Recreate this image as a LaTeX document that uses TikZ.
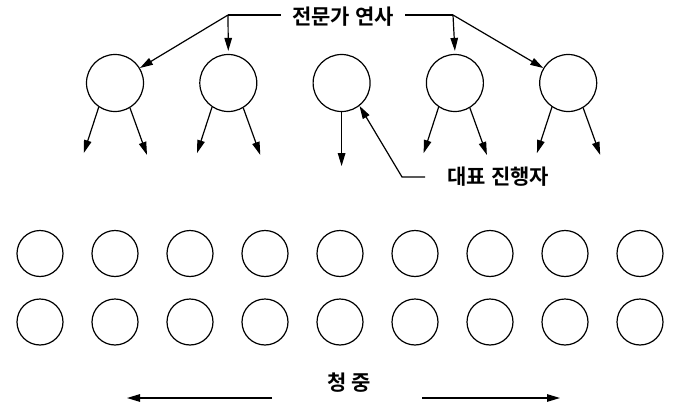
\documentclass[tikz,border=0pt]{standalone}
\usepackage{fontspec}
\newfontfamily\krfont{Noto Sans CJK KR}[BoldFont={Noto Sans CJK KR Bold}]
\usetikzlibrary{arrows.meta,calc}

\begin{document}
\begin{tikzpicture}[
  x=1pt, y=-1pt,
  line width=1.2pt,
  arr/.style={-{Triangle[length=13pt,width=7.5pt]}},
  top node/.style={draw,circle,minimum size=57pt,inner sep=0pt},
  crowd node/.style={draw,circle,minimum size=46pt,inner sep=0pt},
  label text/.style={font=\krfont\bfseries\fontsize{21}{24}\selectfont,inner sep=2pt},
]
  \newcommand*{\TopNum}{5}
  \newcommand*{\TopStep}{113.3}
  \newcommand*{\CrowdStep}{75}

  \useasboundingbox (0,0) rectangle (681,407);

  % speakers on top: s1, s2, ..., s5 (s3 is the moderator)
  \foreach \i in {1,...,\TopNum} {
    \node[top node] (s\i) at ({115+(\i-1)*\TopStep},83) {};
  }

  % audience, two rows: a1_1 ... a2_9
  \foreach \r/\y in {1/253.5,2/322} {
    \foreach \j in {1,...,9} {
      \node[crowd node] (a\r_\j) at ({40+(\j-1)*\CrowdStep},\y) {};
    }
  }

  % labels
  \node[label text] (spk) at (343,17) {전문가 연사};
  \node[label text,anchor=west] (rep) at (445,177) {대표 진행자};
  \node[label text] (aud) at (349,383) {청 중};

  % speaker label to speakers
  \coordinate (jl) at (228,15);
  \coordinate (jr) at (453,15);
  \draw (spk.west) ++(-9,-2) -- (jl);
  \draw (spk.east) ++(9,-2) -- (jr);
  \draw[arr] (jl) -- ([yshift=3pt]s2.north);
  \draw[arr] (jl) -- (s1.31);
  \draw[arr] (jr) -- ([yshift=3pt]s4.north);
  \draw[arr] (jr) -- (s5.149);

  % each speaker talks down to the crowd
  \foreach \i in {1,2,4,5} {
    \draw[arr] (s\i.236) -- ++(-15,46);
    \draw[arr] (s\i.301) -- ++(17,47);
  }
  \draw[arr] (s3.south) -- ++(0,54);

  % moderator label
  \draw[arr] ([xshift=-20pt]rep.west) -- ++(-23,0) -- (s3.-52);

  % audience arrows
  \coordinate (al) at (127,398);
  \coordinate (ar) at (560,398);
  \draw[arr] (272,398) -- (al);
  \draw[arr] (422,398) -- (ar);

\end{tikzpicture}
\end{document}
